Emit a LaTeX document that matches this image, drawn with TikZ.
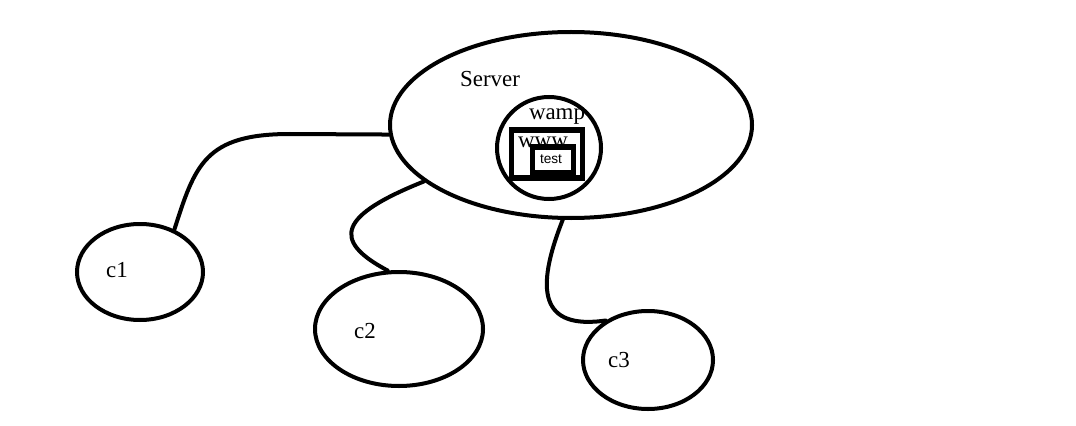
\documentclass[tikz,border=0pt]{standalone}
\usepackage{fontspec}
\setmainfont{Liberation Serif}
\newfontfamily\boxfont{Liberation Sans}
\usetikzlibrary{shapes.geometric}

\tikzset{
  blob/.style={draw,ellipse,line width=0.1cm,inner sep=0pt},
  frame/.style={draw,rectangle,line width=0.125cm,inner sep=0pt},
  wire/.style={line width=0.1cm,line cap=round},
  lbl/.style={anchor=base,inner sep=0pt,font=\fontsize{16.3}{18}\selectfont}
}

\begin{document}
\begin{tikzpicture}[x=0.025cm,y=-0.025cm]

\useasboundingbox (0,0) rectangle (1076,426);

\node[blob,minimum width=362*0.025cm,minimum height=186*0.025cm] (server) at (571,125) {};
\node[blob,minimum width=104*0.025cm,minimum height=102*0.025cm] (wamp) at (549,148) {};
\node[frame,minimum width=71*0.025cm,minimum height=48*0.025cm] (www) at (546.5,154) {};
\node[frame,minimum width=41*0.025cm,minimum height=26*0.025cm] (test) at (552.5,160) {};

\node[blob,minimum width=126*0.025cm,minimum height=96*0.025cm] (c1) at (140,272) {};
\node[blob,minimum width=168*0.025cm,minimum height=114*0.025cm] (c2) at (399,329) {};
\node[blob,minimum width=130*0.025cm,minimum height=98*0.025cm] (c3) at (648,360) {};

\node[lbl] (serverlbl) at (490,87) {Server};
\node[lbl] (wamplbl) at (557,120) {wamp};
\node[lbl] (wwwlbl) at (543,147) {www};
\node[lbl,font=\boxfont\fontsize{9.7}{11}\selectfont] (testlbl) at (551,163) {test};
\node[lbl] (c1lbl) at (117,277) {c1};
\node[lbl] (c2lbl) at (365,338) {c2};
\node[lbl] (c3lbl) at (619,367) {c3};

\draw[wire] (c1.51) .. controls (195,165) and (205,134) .. (290,134) -- (server.183);
\draw[wire] (server.201) .. controls (340,215) and (330,240) .. (c2.101);
\draw[wire] (server.265) .. controls (535,290) and (540,330) .. (c3.137);
\end{tikzpicture}
\end{document}
